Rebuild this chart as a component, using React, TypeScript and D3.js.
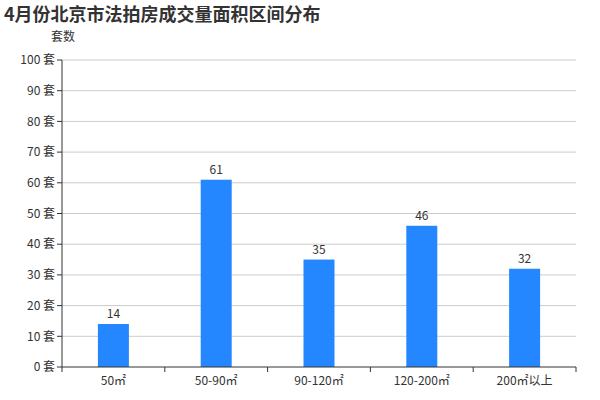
import React from "react";
import * as d3 from "d3";

const categories = ["50㎡", "50-90㎡", "90-120㎡", "120-200㎡", "200㎡以上"];
const values = [14, 61, 35, 46, 32];
const yTicks = [0, 10, 20, 30, 40, 50, 60, 70, 80, 90, 100];
const title = "4月份北京市法拍房成交量面积区间分布";
const yName = "套数";
const unit = " 套";

export default function App() {
  const W = 600, H = 400;
  const left = 62, right = 576, top = 60, bottom = 367;
  const x = d3.scaleBand<string>().domain(categories).range([left, right]).padding(0);
  const y = d3.scaleLinear().domain([0, 100]).range([bottom, top]);
  const barW = 31;
  const font = "'Microsoft YaHei', 'Noto Sans CJK SC', sans-serif";
  return (
    <svg width={W} height={H} style={{ position: "absolute", left: 0, top: 0, fontFamily: font }}>
      <rect width={W} height={H} fill="#fff" />
      <text x={4} y={21} fontSize={18} fontWeight="bold" fill="#333">{title}</text>
      <text x={63} y={41} fontSize={12} fill="#333" textAnchor="middle">{yName}</text>
      {yTicks.map((t) => (
        <g key={t}>
          {t > 0 && <line x1={left} x2={right} y1={y(t)} y2={y(t)} stroke="#ccc" strokeWidth={1} />}
          <line x1={left - 5} x2={left} y1={y(t)} y2={y(t)} stroke="#333" />
          <text x={left - 7} y={y(t)} dy="0.35em" fontSize={12} textAnchor="end" fill="#333">{t + unit}</text>
        </g>
      ))}
      {categories.map((c, i) => {
        const cx = x(c)! + x.bandwidth() / 2;
        return (
          <g key={c}>
            <rect x={cx - barW / 2} y={y(values[i])} width={barW} height={bottom - y(values[i])} fill="#2487ff" />
            <text x={cx} y={y(values[i]) - 6} fontSize={12} textAnchor="middle" fill="#333">{values[i]}</text>
            <text x={cx} y={bottom + 18} fontSize={12} textAnchor="middle" fill="#333">{c}</text>
          </g>
        );
      })}
      {categories.concat([""]).map((c, i) => {
        const xx = left + i * x.bandwidth();
        return <line key={i} x1={xx} x2={xx} y1={bottom} y2={bottom + 5} stroke="#333" />;
      })}
      <line x1={left} x2={left} y1={top} y2={bottom} stroke="#333" />
      <line x1={left} x2={right} y1={bottom} y2={bottom} stroke="#333" />
    </svg>
  );
}
